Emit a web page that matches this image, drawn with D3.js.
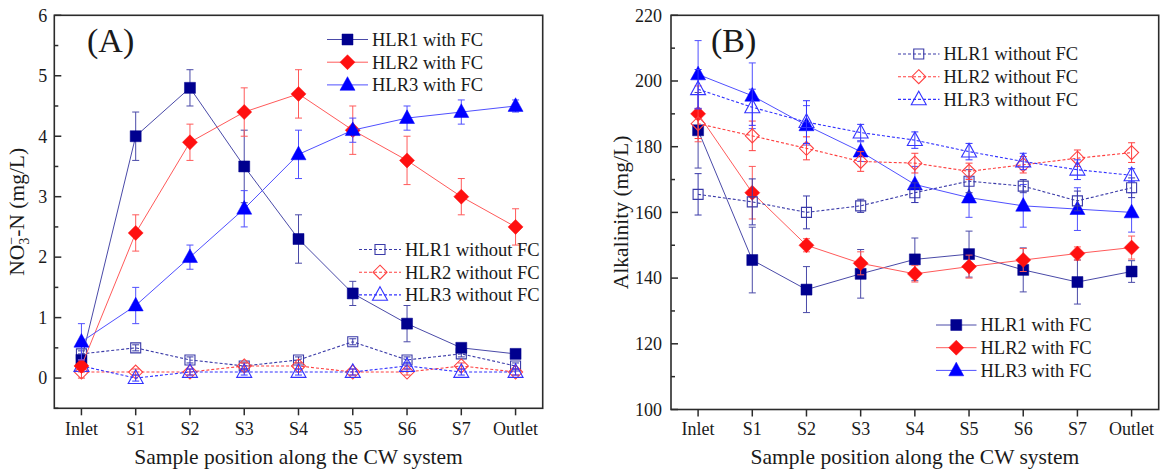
<!DOCTYPE html>
<html>
<head>
<meta charset="utf-8">
<script src="https://cdn.jsdelivr.net/npm/d3@7"></script>
<style>
  body { margin: 0; background: #fff; }
  svg text { font-family: "Liberation Serif", "Times New Roman", serif; fill: #1a1a1a; }
</style>
</head>
<body>
<div id="chart"></div>
<script>
/** sample positions along the CW system */
const categories = ["Inlet", "S1", "S2", "S3", "S4", "S5", "S6", "S7", "Outlet"];

/** (A) NO3--N, mg/L */
const no3HLR1FC = [0.3, 4.0, 4.8, 3.5, 2.3, 1.4, 0.9, 0.5, 0.4];
const no3HLR1FCErr = [0.1, 0.4, 0.3, 0.6, 0.4, 0.2, 0.3, 0.05, 0.05];
const no3HLR2FC = [0.2, 2.4, 3.9, 4.4, 4.7, 4.1, 3.6, 3.0, 2.5];
const no3HLR2FCErr = [0.1, 0.3, 0.3, 0.4, 0.4, 0.4, 0.4, 0.3, 0.3];
const no3HLR3FC = [0.6, 1.2, 2.0, 2.8, 3.7, 4.1, 4.3, 4.4, 4.5];
const no3HLR3FCErr = [0.3, 0.3, 0.2, 0.3, 0.4, 0.2, 0.2, 0.2, 0.1];
const no3HLR1 = [0.4, 0.5, 0.3, 0.2, 0.3, 0.6, 0.3, 0.4, 0.2];
const no3HLR1Err = [0.05, 0.05, 0.05, 0.05, 0.05, 0.05, 0.05, 0.05, 0.05];
const no3HLR2 = [0.1, 0.1, 0.1, 0.2, 0.2, 0.1, 0.1, 0.2, 0.1];
const no3HLR2Err = [0.1, 0.05, 0.05, 0.05, 0.05, 0.05, 0.05, 0.05, 0.05];
const no3HLR3 = [0.2, 0.0, 0.1, 0.1, 0.1, 0.1, 0.2, 0.1, 0.1];
const no3HLR3Err = [0.05, 0.05, 0.05, 0.05, 0.05, 0.05, 0.05, 0.05, 0.05];

/** (B) alkalinity, mg/L */
const alkHLR1FC = [185, 145.5, 136.5, 141.3, 145.7, 147.3, 142.5, 138.8, 142];
const alkHLR1FCErr = [11.5, 10, 7, 7.4, 6.5, 7, 6.7, 6.7, 3.3];
const alkHLR2FC = [190, 166, 150, 144.5, 141.3, 143.5, 145.5, 147.5, 149.3];
const alkHLR2FCErr = [8.5, 8, 2, 3.5, 2.5, 3.5, 3.5, 2, 3.5];
const alkHLR3FC = [202, 195.5, 186.5, 178.5, 168.5, 164.5, 162, 161, 160];
const alkHLR3FCErr = [10.3, 10, 6, 3, 5.5, 6, 6.5, 6.5, 6];
const alkHLR1 = [165.5, 163.2, 160, 162, 166, 169.5, 168, 163.5, 167.5];
const alkHLR1Err = [6.3, 7, 5, 2, 3, 3.5, 2, 3, 3];
const alkHLR2 = [187, 183.3, 179.5, 175.5, 175, 172.5, 174.5, 176.5, 178.2];
const alkHLR2Err = [4.5, 4.5, 3.5, 3, 3, 2.5, 2.5, 2.5, 3];
const alkHLR3 = [197.5, 192, 187.5, 184.3, 182, 178.5, 175.5, 173, 171.3];
const alkHLR3Err = [6, 5.5, 6.5, 2.5, 2.5, 2.5, 2.5, 3, 2];

/** tick values */
const no3Ticks = [0, 1, 2, 3, 4, 5, 6];
const no3Minor = d3.range(-0.5, 6.01, 0.5);
const alkTicks = [100, 120, 140, 160, 180, 200, 220];
const alkMinor = d3.range(100, 220.1, 10);

/** series styles */
const navy = "#00008f", red = "#ff1010", blue = "#0000ff";
const styles = {
  hlr1FC: { label: "HLR1 with FC", color: navy, line: "#4a4aa8", shape: "square", filled: true },
  hlr2FC: { label: "HLR2 with FC", color: red, line: "#ff5a5a", shape: "diamond", filled: true },
  hlr3FC: { label: "HLR3 with FC", color: blue, line: "#5050ff", shape: "triangle", filled: true },
  hlr1: { label: "HLR1 without FC", color: "#3a3aa8", line: "#3a3aa8", shape: "square", filled: false },
  hlr2: { label: "HLR2 without FC", color: "#ff4040", line: "#ff4040", shape: "diamond", filled: false },
  hlr3: { label: "HLR3 without FC", color: "#3333ff", line: "#3333ff", shape: "triangle", filled: false }
};

let width = 1167, height = 472;

let svg = d3.select("#chart")
  .append("svg")
  .attr("width", width)
  .attr("height", height);

svg.append("rect").attr("width", width).attr("height", height).attr("fill", "#fff");

/** marker path centred on 0,0 */
function markerPath(shape, filled) {
  if (shape === "square") {
    let h = filled ? 5.5 : 5;
    return `M${-h},${-h}H${h}V${h}H${-h}Z`;
  }
  if (shape === "diamond") {
    let h = filled ? 7.5 : 7;
    return `M0,${-h}L${h},0L0,${h}L${-h},0Z`;
  }
  let w = filled ? 7.5 : 7.5;
  return `M0,${-w * 1.1}L${w},${w * 0.72}L${-w},${w * 0.72}Z`;
}

function drawMarker(g, st, x, y) {
  g.append("path")
    .attr("d", markerPath(st.shape, st.filled))
    .attr("transform", `translate(${x},${y})`)
    .attr("fill", st.filled ? st.color : "none")
    .attr("stroke", st.color)
    .attr("stroke-width", st.filled ? 0.5 : 1.1);
}

function drawPanel(p) {
  let g = svg.append("g");
  let x = d3.scaleLinear().domain([-0.5, 8.5]).range([p.left, p.right]);
  let y = d3.scaleLinear().domain(p.yDomain).range([p.bottom, p.top]);

  // series: lines, error bars, markers
  p.series.forEach(s => {
    let st = styles[s.key];
    let line = d3.line().x((d, i) => x(i)).y(d => y(d));
    g.append("path")
      .datum(s.values)
      .attr("d", line)
      .attr("fill", "none")
      .attr("stroke", st.line)
      .attr("stroke-width", st.filled ? 1 : 1.1)
      .attr("stroke-dasharray", st.filled ? null : "3,2");

    s.values.forEach((v, i) => {
      let e = s.errors[i];
      let cx = x(i);
      g.append("path")
        .attr("d", `M${cx},${y(v - e)}V${y(v + e)}M${cx - 3.5},${y(v - e)}H${cx + 3.5}M${cx - 3.5},${y(v + e)}H${cx + 3.5}`)
        .attr("fill", "none")
        .attr("stroke", st.line)
        .attr("stroke-width", 1);
    });
    s.values.forEach((v, i) => drawMarker(g, st, x(i), y(v)));
  });

  // frame
  g.append("rect")
    .attr("x", p.left).attr("y", p.top)
    .attr("width", p.right - p.left).attr("height", p.bottom - p.top)
    .attr("fill", "none").attr("stroke", "#2b2b2b").attr("stroke-width", 1.6);

  // y ticks (inward) and labels
  p.minor.forEach(t => {
    let major = p.ticks.includes(+t.toFixed(2));
    g.append("line")
      .attr("x1", p.left).attr("x2", p.left + (major ? 7 : 4))
      .attr("y1", y(t)).attr("y2", y(t))
      .attr("stroke", "#2b2b2b").attr("stroke-width", 1.5);
  });
  p.ticks.forEach(t => {
    g.append("text")
      .attr("x", p.left - p.labelGap).attr("y", y(t))
      .attr("dy", "0.35em")
      .attr("text-anchor", "end")
      .style("font-size", "18px")
      .text(t);
  });

  // x ticks (outward) and labels
  categories.forEach((c, i) => {
    g.append("line")
      .attr("x1", x(i)).attr("x2", x(i))
      .attr("y1", p.bottom).attr("y2", p.bottom + 7)
      .attr("stroke", "#2b2b2b").attr("stroke-width", 1.5);
    g.append("text")
      .attr("x", x(i)).attr("y", 435)
      .attr("text-anchor", "middle")
      .style("font-size", "18px")
      .text(c);
  });

  // axis titles
  g.append("text")
    .attr("x", (p.left + p.right) / 2).attr("y", 464)
    .attr("text-anchor", "middle")
    .style("font-size", "21.5px")
    .text("Sample position along the CW system");

  let yt = g.append("text")
    .attr("transform", `translate(${p.yTitleX},${(p.top + p.bottom) / 2}) rotate(-90)`)
    .attr("text-anchor", "middle")
    .style("font-size", "21.5px");
  p.yTitle(yt);

  // panel tag
  g.append("text")
    .attr("x", p.tagX).attr("y", 52)
    .style("font-size", "34px")
    .text(p.tag);

  // legends
  p.legends.forEach(lg => {
    lg.keys.forEach((k, j) => {
      let st = styles[k];
      let ly = lg.y + j * 22.7;
      g.append("line")
        .attr("x1", lg.x0).attr("x2", lg.x1)
        .attr("y1", ly).attr("y2", ly)
        .attr("stroke", st.line)
        .attr("stroke-width", st.filled ? 1 : 1.1)
        .attr("stroke-dasharray", st.filled ? null : "3,2");
      drawMarker(g, st, (lg.x0 + lg.x1) / 2, ly);
      g.append("text")
        .attr("x", lg.x1 + 4).attr("y", ly)
        .attr("dy", "0.35em")
        .style("font-size", "18.5px")
        .text(st.label);
    });
  });
}

drawPanel({
  left: 54.3, right: 542.7, top: 15.3, bottom: 408.3,
  yDomain: [-0.5, 6], ticks: no3Ticks, minor: no3Minor, labelGap: 7,
  yTitleX: 24, tag: "(A)", tagX: 87,
  yTitle: t => {
    t.append("tspan").text("NO");
    t.append("tspan").attr("dy", 5).style("font-size", "14px").text("3");
    t.append("tspan").attr("dy", -13).attr("dx", -7).style("font-size", "14px").text("−");
    t.append("tspan").attr("dy", 8).text("-N (mg/L)");
  },
  series: [
    { key: "hlr1", values: no3HLR1, errors: no3HLR1Err },
    { key: "hlr2", values: no3HLR2, errors: no3HLR2Err },
    { key: "hlr3", values: no3HLR3, errors: no3HLR3Err },
    { key: "hlr1FC", values: no3HLR1FC, errors: no3HLR1FCErr },
    { key: "hlr2FC", values: no3HLR2FC, errors: no3HLR2FCErr },
    { key: "hlr3FC", values: no3HLR3FC, errors: no3HLR3FCErr }
  ],
  legends: [
    { keys: ["hlr1FC", "hlr2FC", "hlr3FC"], x0: 327, x1: 368, y: 39.5 },
    { keys: ["hlr1", "hlr2", "hlr3"], x0: 359, x1: 401, y: 249.5 }
  ]
});

drawPanel({
  left: 671, right: 1158.7, top: 15.3, bottom: 409.5,
  yDomain: [100, 220], ticks: alkTicks, minor: alkMinor, labelGap: 9,
  yTitleX: 628, tag: "(B)", tagX: 711,
  yTitle: t => t.text("Alkalinity (mg/L)"),
  series: [
    { key: "hlr1FC", values: alkHLR1FC, errors: alkHLR1FCErr },
    { key: "hlr2FC", values: alkHLR2FC, errors: alkHLR2FCErr },
    { key: "hlr3FC", values: alkHLR3FC, errors: alkHLR3FCErr },
    { key: "hlr1", values: alkHLR1, errors: alkHLR1Err },
    { key: "hlr2", values: alkHLR2, errors: alkHLR2Err },
    { key: "hlr3", values: alkHLR3, errors: alkHLR3Err }
  ],
  legends: [
    { keys: ["hlr1", "hlr2", "hlr3"], x0: 898, x1: 939.5, y: 54 },
    { keys: ["hlr1FC", "hlr2FC", "hlr3FC"], x0: 936, x1: 976.5, y: 325 }
  ]
});
</script>
</body>
</html>
